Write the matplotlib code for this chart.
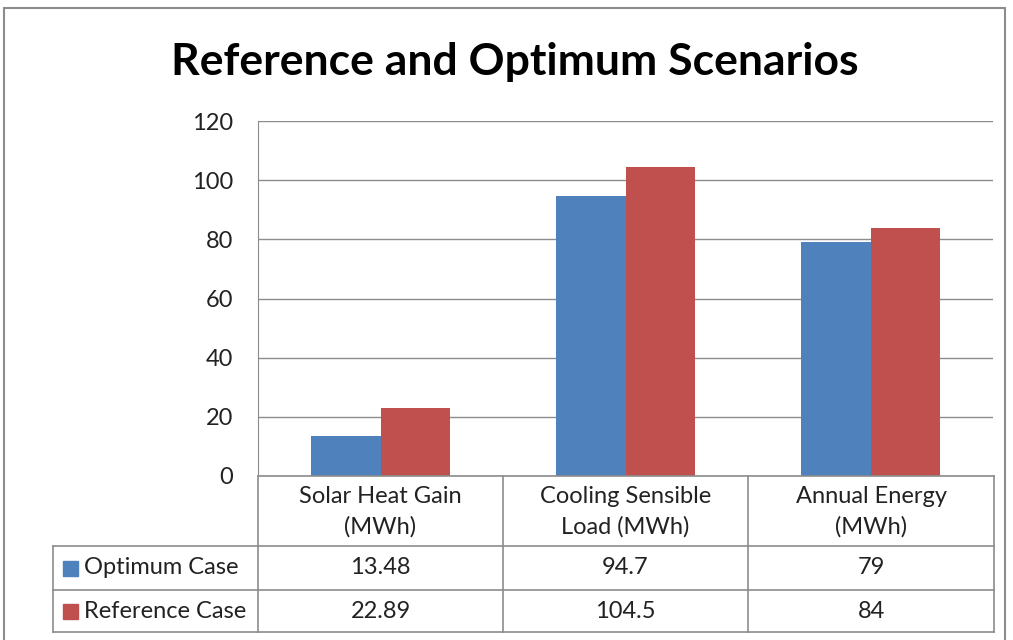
import matplotlib.pyplot as plt
from matplotlib.lines import Line2D
from matplotlib.patches import Rectangle
import numpy as np

categories = ['Solar Heat Gain\n(MWh)', 'Cooling Sensible\nLoad (MWh)', 'Annual Energy\n(MWh)']
series_names = ['Optimum Case', 'Reference Case']
optimum = [13.48, 94.7, 79]
reference = [22.89, 104.5, 84]
table_text = [['13.48', '94.7', '79'], ['22.89', '104.5', '84']]
colors = ['#4F81BD', '#C0504D']
yticks = [0, 20, 40, 60, 80, 100, 120]

plt.rcParams['font.family'] = ['Lato', 'DejaVu Sans']
W, H = 1013, 640
fig = plt.figure(figsize=(W / 100, H / 100), dpi=100)

def fx(px):
    return px / W

def fy(py):
    return 1 - py / H

gridc = '#8c8c8c'
txtc = '#222222'
fs = 17
ax = fig.add_axes([fx(258), fy(476), fx(993) - fx(258), fy(121) - fy(476)])
x = np.arange(len(categories))
bw = 0.285
ax.bar(x - bw / 2, optimum, bw, color=colors[0], zorder=3)
ax.bar(x + bw / 2, reference, bw, color=colors[1], zorder=3)
ax.set_xlim(-0.5, 2.5)
ax.set_ylim(0, 120)
ax.set_yticks(yticks)
ax.set_yticklabels([str(t) for t in yticks], fontsize=fs, color=txtc)
ax.tick_params(axis='y', length=0, pad=18)
ax.set_xticks([])
ax.grid(axis='y', color=gridc, lw=1.0, zorder=0)
for s in ['top', 'right', 'bottom']:
    ax.spines[s].set_visible(False)
ax.spines['left'].set_color(gridc)

fig.text(fx(515), fy(62), 'Reference and Optimum Scenarios', ha='center', va='center',
         fontsize=32, fontweight='bold')

# data table under the plot
col_edges = [258, 503, 748, 994]
row_edges = [476, 546, 590, 632]
lines = []
for xe in col_edges:
    lines.append(([fx(xe), fx(xe)], [fy(476), fy(632)]))
lines.append(([fx(53), fx(53)], [fy(546), fy(632)]))
lines.append(([fx(258), fx(994)], [fy(476), fy(476)]))
for ye in row_edges[1:]:
    lines.append(([fx(53), fx(994)], [fy(ye), fy(ye)]))
for xs, ys in lines:
    fig.add_artist(Line2D(xs, ys, color=gridc, lw=1.2))

for i, cat in enumerate(categories):
    cx = fx((col_edges[i] + col_edges[i + 1]) / 2)
    fig.text(cx, fy(512), cat, ha='center', va='center', fontsize=fs,
             color=txtc, linespacing=1.55)
    for r in range(2):
        cy = fy((row_edges[r + 1] + row_edges[r + 2]) / 2)
        fig.text(cx, cy, table_text[r][i], ha='center', va='center', fontsize=fs,
                 color=txtc)

for r, name in enumerate(series_names):
    cy = (row_edges[r + 1] + row_edges[r + 2]) / 2
    fig.add_artist(Rectangle((fx(63), fy(cy + 7.5)), fx(15), fy(0) - fy(15),
                             color=colors[r]))
    fig.text(fx(84), fy(cy), name, ha='left', va='center', fontsize=fs, color=txtc)

# outer chart border
fig.add_artist(Rectangle((fx(4), fy(700)), fx(1001), fy(8) - fy(700), fill=False,
                         edgecolor='#8c8c8c', lw=1.5))

fig.savefig('out.png', dpi=100)
